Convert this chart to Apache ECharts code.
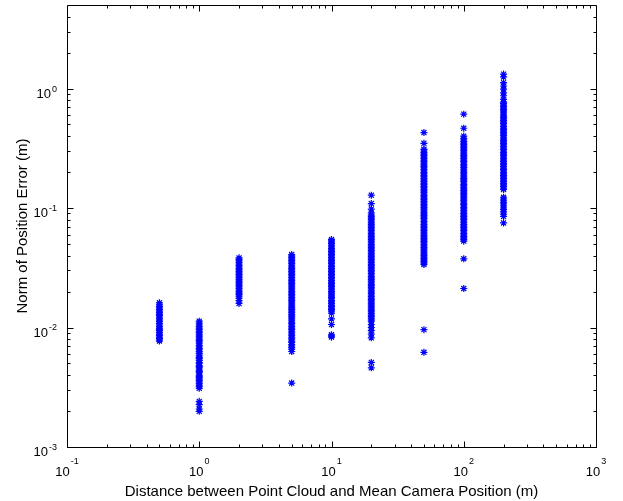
<!DOCTYPE html>
<html>
<head>
<meta charset="utf-8">
<script src="https://cdn.jsdelivr.net/npm/echarts@6/dist/echarts.min.js"></script>
<style>html,body{margin:0;padding:0;background:#fff}#chart{width:623px;height:501px}</style>
</head>
<body>
<div id="chart"></div>
<script>
// Distances (m) of each group of points
const distances = [0.5, 1, 2, 5, 10, 20, 50, 100, 200];

// Norm of position error (m), one list per distance
const err_0_5 = [0.0077,0.0079,0.0081,0.0083,0.0086,0.0088,0.0091,0.0094,0.0096,0.0099,0.0102,0.0105,0.0108,0.0112,0.0115,0.0118,0.0122,0.0126,0.0129,0.0133,0.0137,0.0141,0.0146,0.0150,0.0155,0.0161];
const err_1 = [0.0031,0.0032,0.0033,0.0034,0.0035,0.0036,0.0037,0.0038,0.0039,0.0040,0.0042,0.0043,0.0044,0.0046,0.0047,0.0048,0.0050,0.0051,0.0053,0.0055,0.0056,0.0058,0.0060,0.0061,0.0063,0.0065,0.0067,0.0069,0.0071,0.0074,0.0076,0.0078,0.0080,0.0083,0.0085,0.0088,0.0091,0.0093,0.0096,0.0099,0.0102,0.0105,0.0109,0.0113,0.00241,0.00226,0.00208,0.00199];
const err_2 = [0.0183,0.0189,0.0194,0.0200,0.0206,0.0212,0.0219,0.0225,0.0232,0.0239,0.0246,0.0253,0.0261,0.0269,0.0277,0.0285,0.0294,0.0302,0.0311,0.0321,0.0330,0.0340,0.0350,0.0361,0.0372,0.0383,0.0176,0.0168,0.0159];
const err_5 = [0.0096,0.0099,0.0102,0.0105,0.0108,0.0111,0.0115,0.0118,0.0122,0.0125,0.0129,0.0133,0.0137,0.0141,0.0145,0.0149,0.0154,0.0158,0.0163,0.0168,0.0173,0.0178,0.0184,0.0189,0.0195,0.0201,0.0207,0.0213,0.0219,0.0226,0.0233,0.0240,0.0247,0.0254,0.0262,0.0270,0.0278,0.0286,0.0295,0.0304,0.0313,0.0322,0.0332,0.0342,0.0352,0.0363,0.0374,0.0385,0.0396,0.0408,0.0093,0.0090,0.0087,0.0085,0.0082,0.0080,0.0077,0.0075,0.0072,0.0070,0.0068,0.0066,0.0063,0.00343];
const err_10 = [0.0137,0.0141,0.0145,0.0150,0.0154,0.0159,0.0164,0.0168,0.0174,0.0179,0.0184,0.0190,0.0195,0.0201,0.0207,0.0213,0.0220,0.0226,0.0233,0.0240,0.0247,0.0255,0.0262,0.0270,0.0278,0.0287,0.0295,0.0304,0.0313,0.0323,0.0332,0.0342,0.0353,0.0363,0.0374,0.0385,0.0397,0.0409,0.0421,0.0434,0.0447,0.0460,0.0474,0.0488,0.0503,0.0518,0.0530,0.0546,0.0132,0.0118,0.0106,0.0087,0.0085,0.0083];
const err_20 = [0.0113,0.0116,0.0120,0.0124,0.0127,0.0131,0.0135,0.0139,0.0143,0.0148,0.0152,0.0157,0.0161,0.0166,0.0171,0.0176,0.0182,0.0187,0.0193,0.0199,0.0205,0.0211,0.0217,0.0224,0.0230,0.0237,0.0244,0.0252,0.0259,0.0267,0.0275,0.0283,0.0292,0.0301,0.0310,0.0319,0.0329,0.0338,0.0349,0.0359,0.0370,0.0381,0.0392,0.0404,0.0416,0.0429,0.0442,0.0455,0.0469,0.0483,0.0497,0.0512,0.0528,0.0543,0.0560,0.0576,0.0594,0.0611,0.0630,0.0649,0.0668,0.0688,0.0709,0.0730,0.0752,0.0775,0.0798,0.0822,0.0846,0.0872,0.091,0.098,0.109,0.128,0.0106,0.0100,0.0094,0.0088,0.0082,0.0051,0.0046];
const err_50 = [0.0337,0.0347,0.0357,0.0368,0.0379,0.0390,0.0402,0.0414,0.0427,0.0439,0.0453,0.0466,0.0480,0.0495,0.0510,0.0525,0.0541,0.0557,0.0574,0.0591,0.0609,0.0627,0.0646,0.0665,0.0685,0.0706,0.0727,0.0749,0.0771,0.0794,0.0818,0.0843,0.0868,0.0894,0.0921,0.0949,0.0977,0.1006,0.1036,0.1068,0.110,0.113,0.117,0.120,0.124,0.127,0.131,0.135,0.139,0.143,0.148,0.152,0.157,0.161,0.166,0.171,0.176,0.182,0.187,0.193,0.198,0.204,0.210,0.217,0.223,0.230,0.237,0.244,0.251,0.259,0.267,0.275,0.283,0.291,0.300,0.310,0.348,0.428,0.0096,0.0062];
const err_100 = [0.0528,0.0544,0.0560,0.0577,0.0594,0.0612,0.0630,0.0649,0.0669,0.0689,0.0709,0.0731,0.0753,0.0775,0.0798,0.0822,0.0847,0.0872,0.0898,0.0925,0.0953,0.0982,0.101,0.104,0.107,0.110,0.114,0.117,0.121,0.124,0.128,0.132,0.136,0.140,0.144,0.148,0.153,0.157,0.162,0.167,0.172,0.177,0.182,0.188,0.193,0.199,0.205,0.211,0.218,0.224,0.231,0.238,0.245,0.252,0.260,0.268,0.276,0.284,0.293,0.301,0.310,0.320,0.329,0.339,0.349,0.360,0.371,0.382,0.400,0.465,0.61,0.0376,0.0212];
const err_200 = [0.143,0.147,0.152,0.156,0.161,0.166,0.171,0.176,0.181,0.187,0.192,0.198,0.204,0.210,0.216,0.223,0.230,0.236,0.244,0.251,0.258,0.266,0.274,0.282,0.291,0.300,0.309,0.318,0.327,0.337,0.347,0.358,0.368,0.379,0.391,0.403,0.415,0.427,0.440,0.453,0.467,0.481,0.495,0.510,0.525,0.541,0.557,0.574,0.591,0.609,0.627,0.646,0.665,0.685,0.706,0.727,0.749,0.77,0.81,0.87,0.92,0.99,1.05,1.12,1.25,1.32,0.123,0.119,0.115,0.111,0.108,0.104,0.1,0.097,0.093,0.089,0.085,0.075];

// Axis ranges and ticks
const xRange = [0.1, 1000];
const yRange = [0.001, 5];
const xMajorTicks = [0.1, 1, 10, 100, 1000];
const yMajorTicks = [0.001, 0.01, 0.1, 1];
const minorMultipliers = [2, 3, 4, 5, 6, 7, 8, 9];

const xTitle = 'Distance between Point Cloud and Mean Camera Position (m)';
const yTitle = 'Norm of Position Error (m)';

const errorColumns = [err_0_5, err_1, err_2, err_5, err_10, err_20, err_50, err_100, err_200];
const points = [];
distances.forEach((d, i) => errorColumns[i].forEach(v => points.push([d, v])));

const FONT = '"Liberation Sans", Arial, Helvetica, sans-serif';

function powLabel(v) {
  const e = Math.round(Math.log10(v));
  if (Math.abs(v / Math.pow(10, e) - 1) > 1e-6) return '';
  return '{b|10}{e|' + e + '}';
}

const xRich = {
  b: {fontSize: 13, fontFamily: FONT, color: '#000', lineHeight: 14, verticalAlign: 'bottom'},
  e: {fontSize: 9, fontFamily: FONT, color: '#000', lineHeight: 9, padding: [0, 0, 13, 1], verticalAlign: 'bottom'}
};
const yRich = {
  b: {fontSize: 13, fontFamily: FONT, color: '#000', lineHeight: 14, verticalAlign: 'bottom'},
  e: {fontSize: 9, fontFamily: FONT, color: '#000', lineHeight: 9, padding: [6, 0, 7, 1], verticalAlign: 'bottom'}
};

const asterisk = 'path://M0,-5L0,5M-5,0L5,0M-3.6,-3.6L3.6,3.6M-3.6,3.6L3.6,-3.6';

const chart = echarts.init(document.getElementById('chart'), null, {renderer: 'canvas'});
chart.setOption({
  animation: false,
  backgroundColor: '#fff',
  grid: {left: 67, right: 27, top: 5, bottom: 54, containLabel: false, outerBoundsMode: 'none'},
  xAxis: {
    type: 'log', logBase: 10, min: xRange[0], max: xRange[1],
    axisLine: {show: false}, axisTick: {show: false}, splitLine: {show: false}, minorTick: {show: false},
    axisLabel: {formatter: powLabel, rich: xRich, margin: 18, showMinLabel: true, showMaxLabel: true},
    name: xTitle, nameLocation: 'middle', nameGap: 37, nameMoveOverlap: false,
    nameTextStyle: {fontSize: 15, fontFamily: FONT, color: '#000'}
  },
  yAxis: {
    type: 'log', logBase: 10, min: yRange[0], max: yRange[1],
    axisLine: {show: false}, axisTick: {show: false}, splitLine: {show: false}, minorTick: {show: false},
    axisLabel: {formatter: powLabel, rich: yRich, margin: 10, showMinLabel: true, padding: [10, 0, 0, 0]},
    name: yTitle, nameLocation: 'middle', nameGap: 37, nameMoveOverlap: false,
    nameTextStyle: {fontSize: 15, fontFamily: FONT, color: '#000'}
  },
  series: [{
    type: 'scatter',
    data: points,
    symbol: asterisk,
    symbolSize: 7,
    silent: true,
    itemStyle: {color: 'rgba(0,0,0,0)', borderColor: '#0000ff', borderWidth: 1.2, opacity: 1}
  }]
});

// Box and tick marks computed via the axes' own scales
function px(v) { return chart.convertToPixel({xAxisIndex: 0}, v); }
function py(v) { return chart.convertToPixel({yAxisIndex: 0}, v); }
const crisp = v => Math.round(v) + 0.5;
const L = crisp(px(xRange[0])), R = crisp(px(xRange[1]));
const B = crisp(py(yRange[0])), T = crisp(py(yRange[1]));
const els = [];
const lineStyle = {stroke: '#000', lineWidth: 1};
function seg(x1, y1, x2, y2) {
  els.push({type: 'line', silent: true, z: 100, shape: {x1, y1, x2, y2}, style: lineStyle});
}
els.push({type: 'rect', silent: true, z: 100, shape: {x: L, y: T, width: R - L, height: B - T}, style: {fill: null, stroke: '#000', lineWidth: 1}});

function minorList(majors, range) {
  const out = [];
  majors.forEach(m => minorMultipliers.forEach(k => {
    const v = m * k;
    if (v > range[0] * 1.0001 && v < range[1] * 0.9999) out.push(v);
  }));
  return out;
}
const xMinor = minorList(xMajorTicks, xRange);
const yMinor = minorList(yMajorTicks, yRange);
const MAJ = 6, MIN = 3;
xMajorTicks.forEach(v => { const x = crisp(px(v)); seg(x, B, x, B - MAJ); seg(x, T, x, T + MAJ); });
xMinor.forEach(v => { const x = crisp(px(v)); seg(x, B, x, B - MIN); seg(x, T, x, T + MIN); });
yMajorTicks.forEach(v => { const y = crisp(py(v)); seg(L, y, L + MAJ, y); seg(R, y, R - MAJ, y); });
yMinor.forEach(v => { const y = crisp(py(v)); seg(L, y, L + MIN, y); seg(R, y, R - MIN, y); });
chart.setOption({graphic: {elements: els}});
</script>
</body>
</html>
